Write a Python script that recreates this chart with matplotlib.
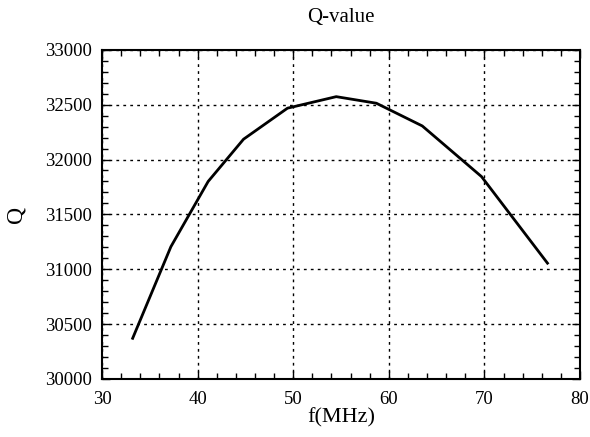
import numpy as np
import matplotlib.pyplot as plt
from matplotlib.ticker import MultipleLocator

plt.rcParams['font.family'] = ['Liberation Serif', 'DejaVu Serif']

# data
f_mhz = [33.2, 37.2, 41.1, 44.8, 49.4, 54.5, 58.7, 63.5, 69.7, 76.6]
q_val = [30370, 31205, 31800, 32185, 32468, 32573, 32513, 32306, 31844, 31055]

fig = plt.figure(figsize=(5.9, 4.37), dpi=100)
ax = fig.add_axes([0.173, 0.133, 0.810, 0.753])

ax.plot(f_mhz, q_val, color='black', linewidth=2.0)

ax.set_xlim(30, 80)
ax.set_ylim(30000, 33000)
ax.xaxis.set_major_locator(MultipleLocator(10))
ax.xaxis.set_minor_locator(MultipleLocator(2))
ax.yaxis.set_major_locator(MultipleLocator(500))
ax.yaxis.set_minor_locator(MultipleLocator(100))

ax.tick_params(which='both', direction='in', top=True, right=True, labelsize=13.5)
ax.tick_params(which='major', length=6, width=1)
ax.tick_params(which='minor', length=4, width=1)
ax.tick_params(axis='x', which='major', pad=9)
ax.tick_params(axis='y', which='major', pad=7)
for s in ax.spines.values():
    s.set_linewidth(1.5)

ax.grid(True, which='major', color='black', linestyle=(0, (2, 3)), linewidth=1.0)

ax.set_title('Q-value', fontsize=15, pad=20)
ax.set_xlabel('f(MHz)', fontsize=16, labelpad=0)
ax.set_ylabel('Q', fontsize=17, labelpad=14)

fig.savefig('out.png', dpi=100)
